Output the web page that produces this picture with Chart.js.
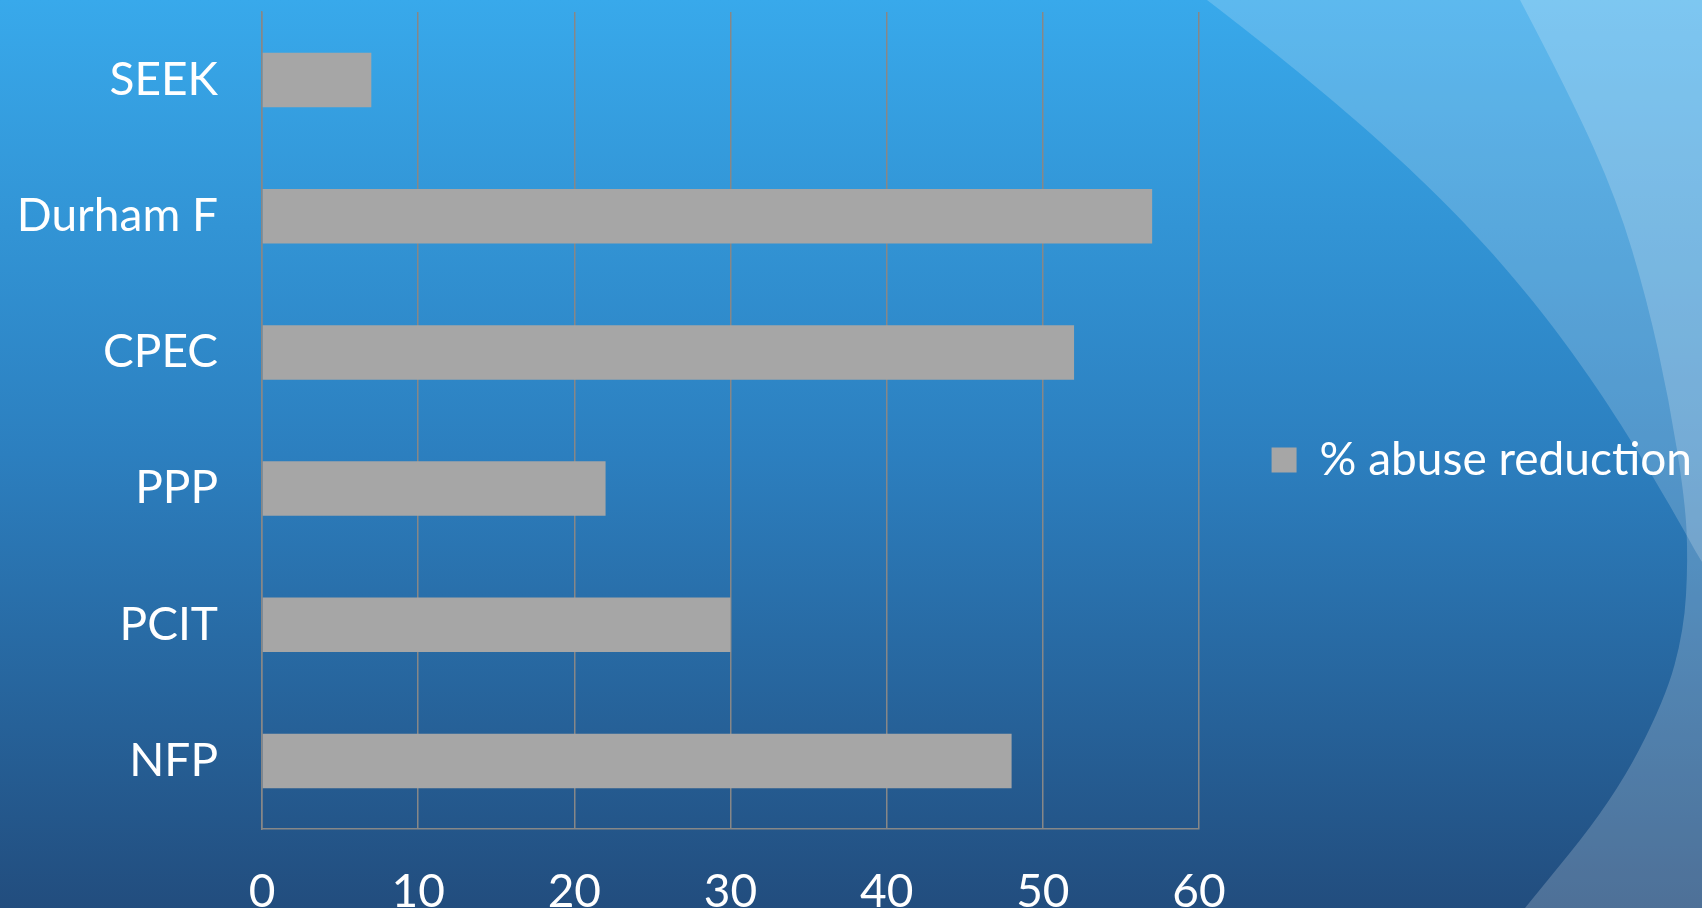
<!DOCTYPE html>
<html>
<head>
<meta charset="utf-8">
<script src="https://cdn.jsdelivr.net/npm/chart.js@4.4.1/dist/chart.umd.min.js"></script>
<style>
  html, body { margin: 0; padding: 0; overflow: hidden; background: #2c7ab8; }
  #wrap { width: 1702px; height: 908px; }
</style>
</head>
<body>
<div id="wrap"><canvas id="myChart" width="1702" height="908"></canvas></div>
<script>
// data
var programas = ['SEEK', 'Durham F', 'CPEC', 'PPP', 'PCIT', 'NFP'];
var reducao = [7, 57, 52, 22, 30, 48];
var serieNome = '% abuse reduction';
var eixoMin = 0;
var eixoMax = 60;
var eixoPasso = 10;

var fonte = 'Lato';
var tamFonte = 46;

// curvas decorativas do fundo
var curvaA = [[1207, 0], [1467, 200], [1564, 312], [1702, 562]]; // bezier cubica
var curvaB = [[1520, 0], [1570, 95], [1617, 200], [1647, 300], [1669, 400], [1685, 500], [1688, 560], [1684, 630], [1665, 700], [1613, 800], [1525, 908]];

function caminhoSuave(ctx, pts) {
    ctx.lineTo(pts[0][0], pts[0][1]);
    for (var i = 1; i < pts.length - 1; i++) {
        var mx = (pts[i][0] + pts[i + 1][0]) / 2;
        var my = (pts[i][1] + pts[i + 1][1]) / 2;
        ctx.quadraticCurveTo(pts[i][0], pts[i][1], mx, my);
    }
    var ult = pts[pts.length - 1];
    ctx.lineTo(ult[0], ult[1]);
}

var fundo = {
    id: 'fundo',
    beforeDraw: function (chart) {
        var ctx = chart.ctx;
        var w = chart.width, h = chart.height;
        ctx.save();
        var g = ctx.createLinearGradient(0, 0, 0, h);
        g.addColorStop(0, '#38a9eb');
        g.addColorStop(0.5, '#2c7fbf');
        g.addColorStop(1, '#224d7e');
        ctx.fillStyle = g;
        ctx.fillRect(0, 0, w, h);

        // faixa clara acima da curva A
        ctx.beginPath();
        ctx.moveTo(curvaA[0][0], curvaA[0][1]);
        ctx.bezierCurveTo(curvaA[1][0], curvaA[1][1], curvaA[2][0], curvaA[2][1], curvaA[3][0], curvaA[3][1]);
        ctx.lineTo(w, 0);
        ctx.closePath();
        ctx.fillStyle = 'rgba(255,255,255,0.19)';
        ctx.fill();

        // faixa a direita da curva B
        ctx.beginPath();
        ctx.moveTo(curvaB[0][0], curvaB[0][1]);
        caminhoSuave(ctx, curvaB);
        ctx.lineTo(w, h);
        ctx.lineTo(w, 0);
        ctx.closePath();
        ctx.fillStyle = 'rgba(255,255,255,0.2)';
        ctx.fill();
        ctx.restore();
    }
};

// padding da legenda para que ela comece logo apos a area do grafico
var medidor = document.createElement('canvas').getContext('2d');
medidor.font = tamFonte + 'px ' + fonte;
var larguraItem = 25 + tamFonte / 2 + medidor.measureText(serieNome).width;
var padLegenda = Math.max(10, 1702 - 10 - larguraItem - 1199);

var ctx = document.getElementById('myChart');
var chart = new Chart(ctx, {
    type: 'bar',
    data: {
        labels: programas,
        datasets: [{
            label: serieNome,
            data: reducao,
            backgroundColor: '#a6a6a6',
            borderWidth: 0,
            barPercentage: 0.4,
            categoryPercentage: 1
        }]
    },
    options: {
        indexAxis: 'y',
        responsive: false,
        animation: false,
        layout: { padding: { top: 12, right: 0, bottom: 0, left: 0 } },
        plugins: {
            tooltip: { enabled: false },
            legend: {
                position: 'right',
                maxWidth: 700,
                labels: {
                    color: '#ffffff',
                    font: { family: fonte, size: tamFonte },
                    boxWidth: 25,
                    boxHeight: 25,
                    padding: padLegenda
                }
            }
        },
        scales: {
            x: {
                min: eixoMin,
                max: eixoMax,
                ticks: {
                    stepSize: eixoPasso,
                    color: '#ffffff',
                    font: { family: fonte, size: tamFonte },
                    padding: 36,
                    maxRotation: 0
                },
                grid: { color: '#878787', lineWidth: 1.5, drawTicks: false },
                border: { color: '#878787', width: 1.5 },
                afterFit: function (scale) { scale.height = 79; }
            },
            y: {
                ticks: {
                    color: '#ffffff',
                    font: { family: fonte, size: tamFonte },
                    padding: 44
                },
                grid: { display: false, drawTicks: false },
                border: { color: '#878787', width: 1.5 },
                afterFit: function (scale) {
                    scale.width = 262;
                    scale.paddingTop = 0;
                    scale.paddingBottom = 0;
                }
            }
        }
    },
    plugins: [fundo]
});
</script>
</body>
</html>
